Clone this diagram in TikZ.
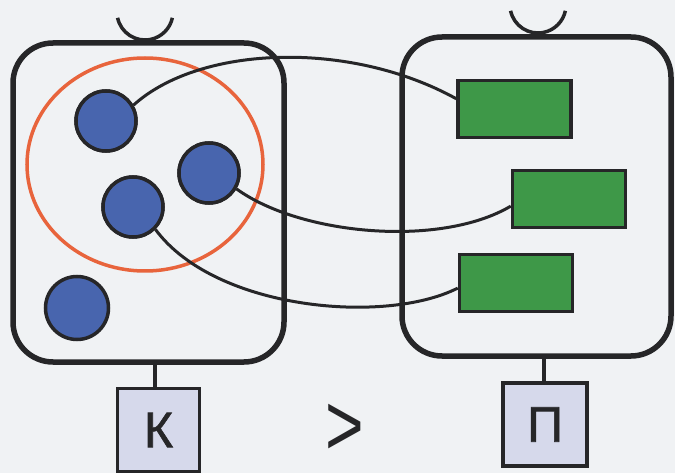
\documentclass[tikz,border=0pt]{standalone}
\usepackage{fontspec}
\setmainfont{Liberation Sans}
\newfontfamily\tagfont[FakeBold=1.2]{Liberation Sans}
\usetikzlibrary{calc}
\definecolor{bg}{RGB}{240,242,244}
\definecolor{ink}{RGB}{38,38,40}
\definecolor{dotblue}{RGB}{72,101,174}
\definecolor{rectgreen}{RGB}{62,152,72}
\definecolor{ringorange}{RGB}{232,100,60}
\definecolor{tagfill}{RGB}{214,217,235}
\tikzset{
  setbox/.style={draw=ink, line width=5.5pt, rounded corners=40pt},
  dot/.style={circle, draw=ink, line width=3.5pt, fill=dotblue, minimum size=60pt, inner sep=0pt},
  bar/.style={rectangle, draw=ink, line width=3.5pt, fill=rectgreen, minimum width=113pt, minimum height=57pt, inner sep=0pt},
  tag/.style={rectangle, draw=ink, line width=3.5pt, fill=tagfill, minimum width=82pt, minimum height=83pt, inner sep=0pt, font=\tagfont\fontsize{50}{50}\selectfont, text=ink},
  link/.style={draw=ink, line width=3pt},
  stem/.style={draw=ink, line width=3.5pt},
  hook/.style={draw=ink, line width=3.5pt},
  ring/.style={draw=ringorange, line width=3.5pt}
}
\begin{document}
\begin{tikzpicture}[x=1pt,y=-1pt]
\fill[bg] (0,0) rectangle (675,473);
\useasboundingbox (0,0) rectangle (675,473);
% boxes
\node[setbox, minimum width=271pt, minimum height=319pt, inner sep=0pt] (L) at (148.5,202.5) {};
\node[setbox, minimum width=269pt, minimum height=319pt, inner sep=0pt] (R) at (536.5,196.5) {};
% hooks
\draw[hook] (117.6,17.8) arc[start angle=168, end angle=12, radius=28];
\draw[hook] (510.6,10.8) arc[start angle=168, end angle=12, radius=28];
% orange ring
\draw[ring] (145,164.5) ellipse[x radius=118, y radius=106.5];
% nodes
\node[dot] (c1) at (106,121) {};
\node[dot] (c2) at (209,173) {};
\node[dot] (c3) at (133,207) {};
\node[dot, minimum width=63pt, minimum height=63pt] (c4) at (77,308) {};
\node[bar] (g1) at (514.5,109) {};
\node[bar] (g2) at (569,199) {};
\node[bar] (g3) at (516,283) {};
% connectors
\draw[link] (c1.30) .. controls (200,45) and (350,40) .. (g1.170);
\draw[link] (c2.-30) .. controls (300,235) and (440,248) .. (g2.187);
\draw[link] (c3.-45) .. controls (215,310) and (385,325) .. (g3.185);
% redraw nodes on top
\node[dot] at (c1) {};
\node[dot] at (c2) {};
\node[dot] at (c3) {};
\node[bar] at (g1) {};
\node[bar] at (g2) {};
\node[bar] at (g3) {};
% tags
\node[tag] (K) at (158.5,430) {К};
\node[tag, minimum width=84pt, minimum height=83pt] (P) at (545,424.5) {П};
\coordinate (ls) at (155,362);
\coordinate (rs) at (544,356);
\draw[stem] (ls) -- (ls |- K.north);
\draw[stem] (rs) -- (rs |- P.north);
% comparison sign
\node[text=ink, inner sep=0pt] (gt) at (345,430) {\scalebox{0.75}[1]{\fontsize{88}{88}\selectfont >}};
\end{tikzpicture}
\end{document}
